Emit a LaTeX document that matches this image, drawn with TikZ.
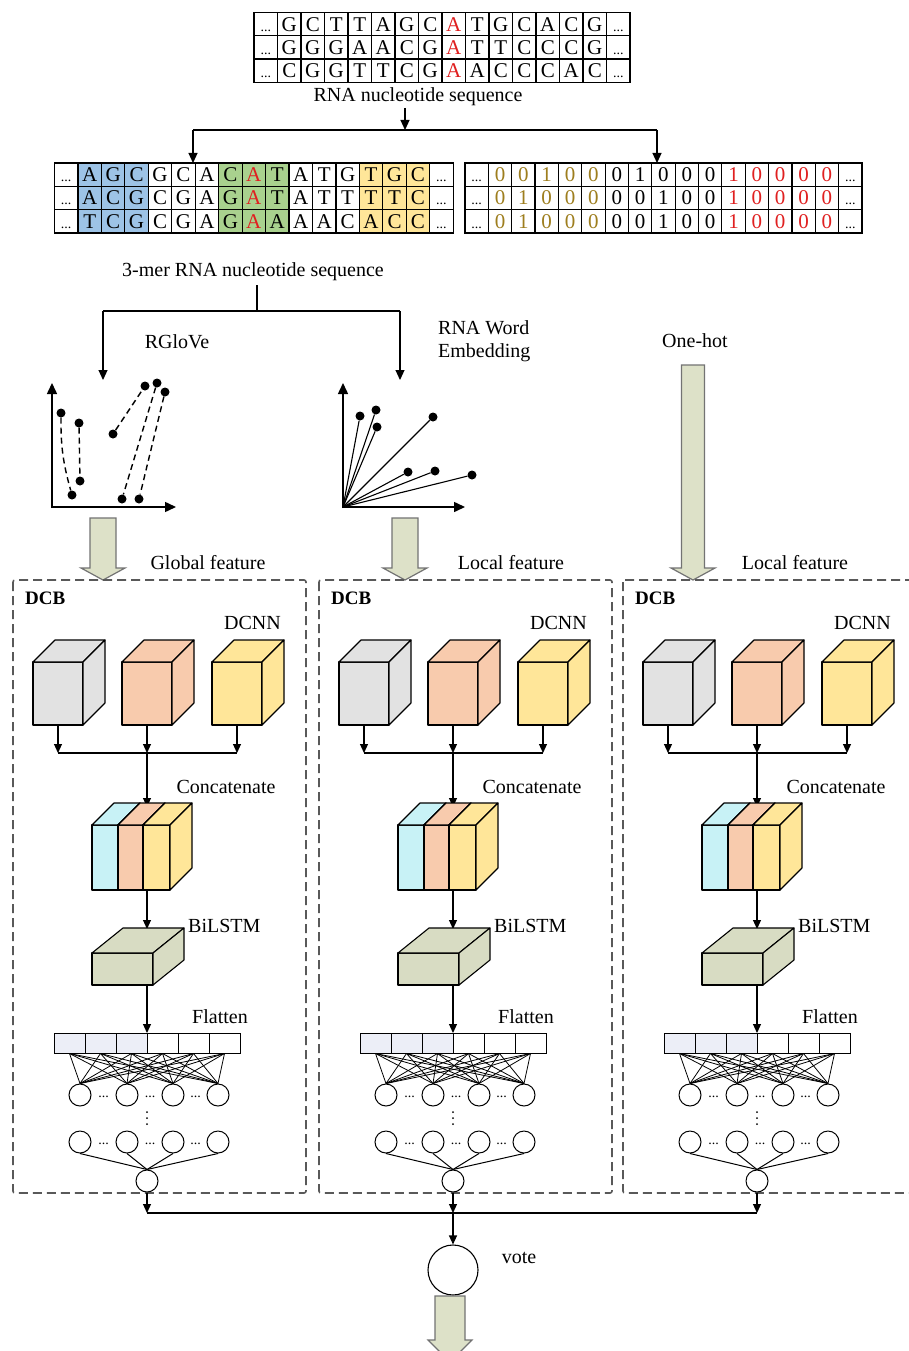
\documentclass[tikz,border=0pt]{standalone}
\usepackage{fontspec}
\setmainfont{Liberation Serif}
\usetikzlibrary{arrows.meta}
\definecolor{sblue}{HTML}{9DC3E6}
\definecolor{sgreen}{HTML}{A9D18E}
\definecolor{syellow}{HTML}{FFE699}
\definecolor{sorange}{HTML}{F8CBAD}
\definecolor{sgray}{HTML}{E2E2E2}
\definecolor{scyan}{HTML}{C8F2F6}
\definecolor{solive}{HTML}{9E7E1E}
\definecolor{sred}{HTML}{E02020}
\definecolor{slstm}{HTML}{D8DCC3}
\definecolor{sarrow}{HTML}{DDE1C8}
\definecolor{sbar}{HTML}{ECEEF7}
% cube: x, ytop, w, h, depth-x, depth-y(up), colour
\newcommand\mycube[7]{%
  \filldraw[fill=#7,draw=black,line width=1.1pt,line join=round] (#1,#2) rectangle ({#1+#3},{#2+#4});
  \filldraw[fill=#7,draw=black,line width=1.1pt,line join=round] (#1,#2) -- ++(#5,-#6) -- ++(#3,0) -- ++(-#5,#6) -- cycle;
  \filldraw[fill=#7,draw=black,line width=1.1pt,line join=round] ({#1+#3},#2) -- ++(#5,-#6) -- ++(0,#4) -- ++(-#5,#6) -- cycle;
}
% block arrow: cx, ytop, yhead, ytip, shaft half width, head half width
\newcommand\bigarrow[6]{%
  \filldraw[fill=sarrow,draw=black!55,line width=1.2pt] ({#1-#5},#2) -- ({#1+#5},#2) -- ({#1+#5},#3) -- ({#1+#6},#3) -- (#1,#4) -- ({#1-#6},#3) -- ({#1-#5},#3) -- cycle;
}
\begin{document}
\begin{tikzpicture}[x=1pt,y=-1pt,
  lbl/.style={font=\fontsize{20}{23}\selectfont, inner sep=0pt},
  boldlbl/.style={font=\fontsize{19}{22}\selectfont\bfseries, inner sep=0pt},
  seq/.style={font=\fontsize{21}{23}\selectfont, inner sep=0pt, text height=14pt, text depth=0pt},
  dotc/.style={font=\fontsize{14}{15}\selectfont, inner sep=0pt, text height=14pt, text depth=0pt},
  tline/.style={draw=black, line width=1.2pt},
  arr/.style={-{Triangle[length=10pt,width=9pt]}, line width=1.1pt},
  sarr/.style={-{Triangle[length=9pt,width=8pt]}, line width=1.1pt},
  axarr/.style={-{Triangle[length=11pt,width=10pt]}, line width=1.5pt},
  mdot/.style={circle, fill=black, inner sep=0pt, minimum size=9pt},
  dline/.style={line width=1.4pt, dash pattern=on 6pt off 4pt},
  dbox/.style={draw=black!65, line width=1.6pt, dash pattern=on 9pt off 5pt, rounded corners=2pt},
  neuron/.style={circle, draw=black, line width=1pt, fill=white, inner sep=0pt, minimum size=22pt},
  fcell/.style={draw=black, line width=1pt, minimum width=31pt, minimum height=20pt, inner sep=0pt},
  ndots/.style={font=\fontsize{14}{14}\selectfont, inner sep=0pt},
]
\useasboundingbox (0,0) rectangle (909,1351);
\fill[white] (0,0) rectangle (909,1351);

%% ---------- top sequence table ----------
\draw[tline] (254,12.5) rectangle (630,82.4);
\foreach \i in {1,...,15} \draw[tline] ({254+\i*23.5},12.5) -- ({254+\i*23.5},82.4);
\foreach \j in {1,2} \draw[tline] (254,{12.5+\j*23.3}) -- (630,{12.5+\j*23.3});
\foreach \row [count=\r from 0] in {{G,C,T,T,A,G,C,A,T,G,C,A,C,G},{G,G,G,A,A,C,G,A,T,T,C,C,C,G},{C,G,G,T,T,C,G,A,A,C,C,C,A,C}} {
  \node[dotc] (ta\r) at ({254+0.5*23.5},{12.5+(\r+0.5)*23.3}) {...};
  \node[dotc] (tz\r) at ({254+15.5*23.5},{12.5+(\r+0.5)*23.3}) {...};
  \foreach \ch [count=\c] in \row {
    \ifnum\c=8 \def\tc{sred}\else\def\tc{black}\fi
    \node[seq,text=\tc] (t\r-\c) at ({254+(\c+0.5)*23.5},{12.5+(\r+0.5)*23.3}) {\ch};
  }
}
\node[lbl] (lab1) at (418,97) {RNA nucleotide sequence};
\coordinate (s1) at (405,108);
\coordinate (s2) at (405,130);
\coordinate (bl) at (193,130);
\coordinate (br) at (657,130);
\coordinate (bl2) at (193,163);
\coordinate (br2) at (657,163);
\draw[arr] (s1) -- (s2);
\draw[line width=1.1pt] (bl) -- (br);
\draw[arr] (bl) -- (bl2);
\draw[arr] (br) -- (br2);

%% ---------- 3-mer table ----------
\fill[sblue] ({54.5+1*23.45},163) rectangle ({54.5+4*23.45},232.9);
\fill[sgreen] ({54.5+7*23.45},163) rectangle ({54.5+10*23.45},232.9);
\fill[syellow] ({54.5+13*23.45},163) rectangle ({54.5+16*23.45},232.9);
\draw[tline] (54.5,163) rectangle ({54.5+17*23.45},232.9);
\foreach \i in {1,...,16} \draw[tline] ({54.5+\i*23.45},163) -- ({54.5+\i*23.45},232.9);
\foreach \j in {1,2} \draw[tline] (54.5,{163+\j*23.3}) -- ({54.5+17*23.45},{163+\j*23.3});
\foreach \row [count=\r from 0] in {{A,G,C,G,C,A,C,A,T,A,T,G,T,G,C},{A,C,G,C,G,A,G,A,T,A,T,T,T,T,C},{T,C,G,C,G,A,G,A,A,A,A,C,A,C,C}} {
  \node[dotc] (ka\r) at ({54.5+0.5*23.45},{163+(\r+0.5)*23.3}) {...};
  \node[dotc] (kz\r) at ({54.5+16.5*23.45},{163+(\r+0.5)*23.3}) {...};
  \foreach \ch [count=\c] in \row {
    \ifnum\c=8 \def\tc{sred}\else\def\tc{black}\fi
    \node[seq,text=\tc] (k\r-\c) at ({54.5+(\c+0.5)*23.45},{163+(\r+0.5)*23.3}) {\ch};
  }
}

%% ---------- one-hot table ----------
\draw[tline] (465,163) rectangle ({465+17*23.35},232.9);
\foreach \i in {1,...,16} \draw[tline] ({465+\i*23.35},163) -- ({465+\i*23.35},232.9);
\foreach \j in {1,2} \draw[tline] (465,{163+\j*23.3}) -- ({465+17*23.35},{163+\j*23.3});
\foreach \row [count=\r from 0] in {{0,0,1,0,0,0,1,0,0,0,1,0,0,0,0},{0,1,0,0,0,0,0,1,0,0,1,0,0,0,0},{0,1,0,0,0,0,0,1,0,0,1,0,0,0,0}} {
  \node[dotc] (oa\r) at ({465+0.5*23.35},{163+(\r+0.5)*23.3}) {...};
  \node[dotc] (oz\r) at ({465+16.5*23.35},{163+(\r+0.5)*23.3}) {...};
  \foreach \ch [count=\c] in \row {
    \ifnum\c<6 \def\tc{solive}\else\ifnum\c>10 \def\tc{sred}\else\def\tc{black}\fi\fi
    \node[seq,text=\tc] (h\r-\c) at ({465+(\c+0.5)*23.35},{163+(\r+0.5)*23.3}) {\ch};
  }
}

%% ---------- 3-mer label and split ----------
\node[lbl] (lab2) at (253,272) {3-mer RNA nucleotide sequence};
\coordinate (m1) at (257,285);
\coordinate (m2) at (257,311);
\coordinate (ml) at (103,311);
\coordinate (mr) at (400,311);
\coordinate (ml2) at (103,380);
\coordinate (mr2) at (400,380);
\draw[line width=1.1pt] (m1) -- (m2);
\draw[line width=1.1pt] (ml) -- (mr);
\draw[arr] (ml) -- (ml2);
\draw[arr] (mr) -- (mr2);
\node[lbl] (rglove) at (177,342) {RGloVe};
\node[lbl,anchor=west] (rwe1) at (438,328) {RNA Word};
\node[lbl,anchor=west] (rwe2) at (438,353) {Embedding};
\node[lbl] (onehot) at (695,341) {One-hot};

%% ---------- RGloVe plot ----------
\coordinate (go) at (52,507);
\draw[axarr] (52,508) -- (52,383);
\draw[axarr] (51,507) -- (176,507);
\node[mdot] (g1) at (61,413) {};
\node[mdot] (g2) at (79,423) {};
\node[mdot] (g3) at (80,481) {};
\node[mdot] (g4) at (72,495) {};
\node[mdot] (g5) at (113,434) {};
\node[mdot] (g6) at (145,386) {};
\node[mdot] (g7) at (157,383) {};
\node[mdot] (g8) at (165,392) {};
\node[mdot] (g9) at (122,499) {};
\node[mdot] (g10) at (139,499) {};
\draw[dline] (g1) to[bend right=8] (g4);
\draw[dline] (g2) -- (g3);
\draw[dline] (g5) -- (g6);
\draw[dline] (g7) -- (g9);
\draw[dline] (g8) -- (g10);

%% ---------- word embedding plot ----------
\coordinate (eo) at (343,507);
\draw[axarr] (343,508) -- (343,383);
\draw[axarr] (342,507) -- (465,507);
\node[mdot] (e1) at (360,416) {};
\node[mdot] (e2) at (376,410) {};
\node[mdot] (e3) at (377,427) {};
\node[mdot] (e4) at (433,417) {};
\node[mdot] (e5) at (408,472) {};
\node[mdot] (e6) at (435,471) {};
\node[mdot] (e7) at (472,475) {};
\foreach \e in {e1,e2,e3,e4,e5,e6,e7} \draw[line width=1.1pt] (eo) -- (\e);

%% ---------- block arrows ----------
\bigarrow{103}{518}{568}{580}{13}{22}
\bigarrow{405}{518}{568}{580}{13}{22}
\bigarrow{693}{365}{568}{580}{11.5}{22}
\node[lbl] (gf) at (208,563) {Global feature};
\node[lbl] (lf1) at (511,563) {Local feature};
\node[lbl] (lf2) at (795,563) {Local feature};

%% ---------- DCB blocks ----------
\foreach \dx/\bn/\rx in {0/a/306,306/b/612,610/c/935} {
  \draw[dbox] ({13+\dx},580) rectangle (\rx,1193);
  \node[boldlbl,anchor=west] (dcb\bn) at ({25+\dx},598) {DCB};
  \node[lbl,anchor=east] (dcnn\bn) at ({281+\dx},623) {DCNN};
  \mycube{33+\dx}{662}{50}{63}{22}{22}{sgray}
  \mycube{122+\dx}{662}{50}{63}{22}{22}{sorange}
  \mycube{212+\dx}{662}{50}{63}{22}{22}{syellow}
  \coordinate (cg\bn) at ({58+\dx},725);
  \coordinate (co\bn) at ({147+\dx},725);
  \coordinate (cy\bn) at ({237+\dx},725);
  \coordinate (jl\bn) at ({58+\dx},753);
  \coordinate (jm\bn) at ({147+\dx},753);
  \coordinate (jr\bn) at ({237+\dx},753);
  \coordinate (ct\bn) at ({147+\dx},807);
  \draw[sarr] (cg\bn) -- (jl\bn);
  \draw[sarr] (co\bn) -- (jm\bn);
  \draw[sarr] (cy\bn) -- (jr\bn);
  \draw[line width=1.1pt] (jl\bn) -- (jr\bn);
  \draw[sarr] (jm\bn) -- (ct\bn);
  \node[lbl] (cat\bn) at ({226+\dx},787) {Concatenate};
  \mycube{92+\dx}{825}{26}{65}{22}{22}{scyan}
  \mycube{118+\dx}{825}{25}{65}{22}{22}{sorange}
  \mycube{143+\dx}{825}{27}{65}{22}{22}{syellow}
  \coordinate (cb\bn) at ({147+\dx},890);
  \coordinate (lt\bn) at ({147+\dx},929);
  \draw[sarr] (cb\bn) -- (lt\bn);
  \mycube{92+\dx}{953}{61}{32}{31}{25}{slstm}
  \node[lbl,anchor=west] (bil\bn) at ({188+\dx},926) {BiLSTM};
  \coordinate (lb\bn) at ({147+\dx},985);
  \coordinate (ft\bn) at ({147+\dx},1033);
  \draw[sarr] (lb\bn) -- (ft\bn);
  \node[lbl] (fl\bn) at ({220+\dx},1017) {Flatten};
  \foreach \i in {0,...,5} {
    \ifnum\i<3 \def\fc{sbar}\else\def\fc{white}\fi
    \node[fcell,fill=\fc] (f\bn\i) at ({69.5+31*\i+\dx},1043) {};
  }
  \foreach \cx [count=\k] in {80,127,173,218} {
    \node[neuron] (h\bn\k) at ({\cx+\dx},1095) {};
    \node[neuron] (l\bn\k) at ({\cx+\dx},1142) {};
  }
  \foreach \i in {0,...,5} \foreach \k in {1,...,4} \draw[line width=0.8pt] (f\bn\i.south) -- (h\bn\k.north);
  \foreach \mx [count=\k] in {103.5,150,195.5} {
    \node[ndots] (dh\bn\k) at ({\mx+\dx},1097) {...};
    \node[ndots] (dl\bn\k) at ({\mx+\dx},1144) {...};
  }
  \foreach \vy in {1112,1118,1124} \fill ({147+\dx},\vy) circle (1pt);
  \node[neuron] (out\bn) at ({147+\dx},1181) {};
  \foreach \k in {1,...,4} \draw[line width=1pt] (l\bn\k.south) -- (out\bn.north);
}

%% ---------- vote ----------
\node[circle, draw=black, line width=1.1pt, inner sep=0pt, minimum size=50pt] (vote) at (453,1270) {};
\node[lbl] (votel) at (519,1258) {vote};
\coordinate (va) at (147,1213);
\coordinate (vb) at (453,1213);
\coordinate (vc) at (757,1213);
\draw[sarr] (outa.south) -- (va);
\draw[sarr] (outb.south) -- (vb);
\draw[sarr] (outc.south) -- (vc);
\draw[line width=1.1pt] (va) -- (vc);
\draw[sarr] (vb) -- (vote.north);
\bigarrow{450}{1296}{1340}{1362}{15}{22}
\end{tikzpicture}
\end{document}
